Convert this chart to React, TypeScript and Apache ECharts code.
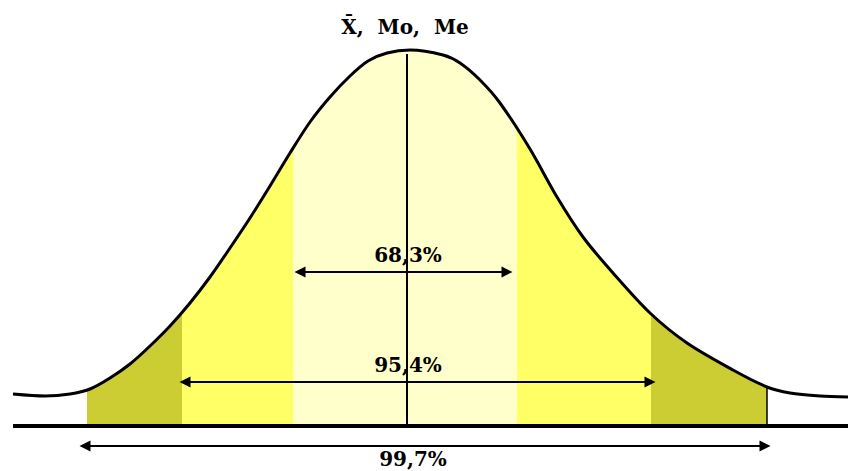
import React, { useEffect, useRef } from "react";
import * as echarts from "echarts";

// Curve: x position, height above baseline
const curveX = [13, 45, 70, 90, 110, 130, 150, 170, 190, 210, 230, 250, 270, 290, 310, 330, 350, 368, 387, 410, 443, 460, 480, 500, 530, 557, 583, 613, 650, 687, 733, 767, 790, 820, 848];
const curveY = [32, 30, 32, 37, 48, 62, 80, 100, 123, 149, 178, 208, 240, 273, 304, 329, 350, 365, 373, 376, 371, 363, 346, 323, 277, 229, 189, 153, 113, 83, 56, 39, 33, 30, 29];

// Shaded bands (±3σ, ±2σ, ±1σ)
const bandEdges = [87, 182, 293, 517, 651, 767];
const bandColors = ["#CCCC33", "#FFFF66", "#FFFFCC", "#FFFF66", "#CCCC33"];

// Interval arrows (endpoints are arrow-head centres)
const intervalLabels = ["68,3%", "95,4%", "99,7%"];
const intervalFrom = [300, 185, 85];
const intervalTo = [507, 650, 765];
const intervalLevel = [154, 44, -20];

const meanX = 407;
const meanTop = 372;
const tailEndX = 767;
const tailEndTop = 39;
const centerTitle = "X\u0304,\u00a0\u00a0Mo,\u00a0\u00a0Me";

const FONT = "'DejaVu Serif', serif";

export default function App() {
  const ref = useRef<HTMLDivElement>(null);
  useEffect(() => {
    if (!ref.current) return;
    const chart = echarts.init(ref.current, null, { renderer: "svg" });
    const data = curveX.map((x, i) => [x, curveY[i]]);
    const pieces = bandColors.map((c, i) => ({
      gte: bandEdges[i],
      ...(i === bandColors.length - 1 ? { lte: bandEdges[i + 1] } : { lt: bandEdges[i + 1] }),
      color: c,
    }));
    const labelPads: any[] = [
      [0, 0, 0, 9],
      [0, 19, 0, 0],
      [0, 24, 0, 0],
    ];
    const arrowLines = intervalLabels.map((lab, i) => [
      {
        coord: [intervalFrom[i], intervalLevel[i]],
        symbol: "triangle",
        symbolSize: [11, 11],
        label: {
          show: true,
          formatter: lab,
          position: i === 2 ? "insideMiddleBottom" : "insideMiddleTop",
          distance: i === 2 ? 3 : 7,
          fontFamily: FONT,
          fontWeight: "bold",
          fontSize: 20,
          color: "#000",
          padding: labelPads[i],
        },
        lineStyle: { color: "#000", width: 2, type: "solid" },
      },
      { coord: [intervalTo[i], intervalLevel[i]], symbol: "triangle", symbolSize: [11, 11] },
    ]);
    chart.setOption({
      animation: false,
      grid: { left: 0, right: 0, top: 26, bottom: 0 },
      xAxis: { type: "value", min: 0, max: 848, show: false },
      yAxis: { type: "value", min: -45, max: 400, show: false },
      visualMap: {
        type: "piecewise",
        show: false,
        dimension: 0,
        seriesIndex: 0,
        pieces,
        outOfRange: { color: "rgba(255,255,255,0)" },
      },
      graphic: [
        {
          type: "text",
          x: 405,
          y: 27,
          style: {
            text: centerTitle,
            fontFamily: FONT,
            fontWeight: "bold",
            fontSize: 20,
            fill: "#000",
            align: "center",
            verticalAlign: "middle",
          },
        },
      ],
      series: [
        {
          type: "line",
          data,
          smooth: 0.3,
          symbol: "none",
          lineStyle: { width: 0 },
          areaStyle: { opacity: 1, origin: 0 },
          z: 1,
        },
        {
          type: "line",
          data,
          smooth: 0.3,
          symbol: "none",
          lineStyle: { color: "#000", width: 3 },
          z: 3,
          markLine: {
            silent: true,
            symbol: ["none", "none"],
            label: { show: false },
            data: [
              [
                { coord: [13, 0], lineStyle: { color: "#000", width: 4, type: "solid" } },
                { coord: [848, 0] },
              ],
              [
                { coord: [meanX, 0], lineStyle: { color: "#000", width: 2, type: "solid" } },
                { coord: [meanX, meanTop] },
              ],
              [
                { coord: [tailEndX, 0], lineStyle: { color: "#000", width: 1.5, type: "solid" } },
                { coord: [tailEndX, tailEndTop] },
              ],
              ...arrowLines,
            ],
          },
        },
      ],
    } as any);
    return () => chart.dispose();
  }, []);
  return <div ref={ref} style={{ width: 848, height: 471, position: "absolute", left: 0, top: 0 }} />;
}
